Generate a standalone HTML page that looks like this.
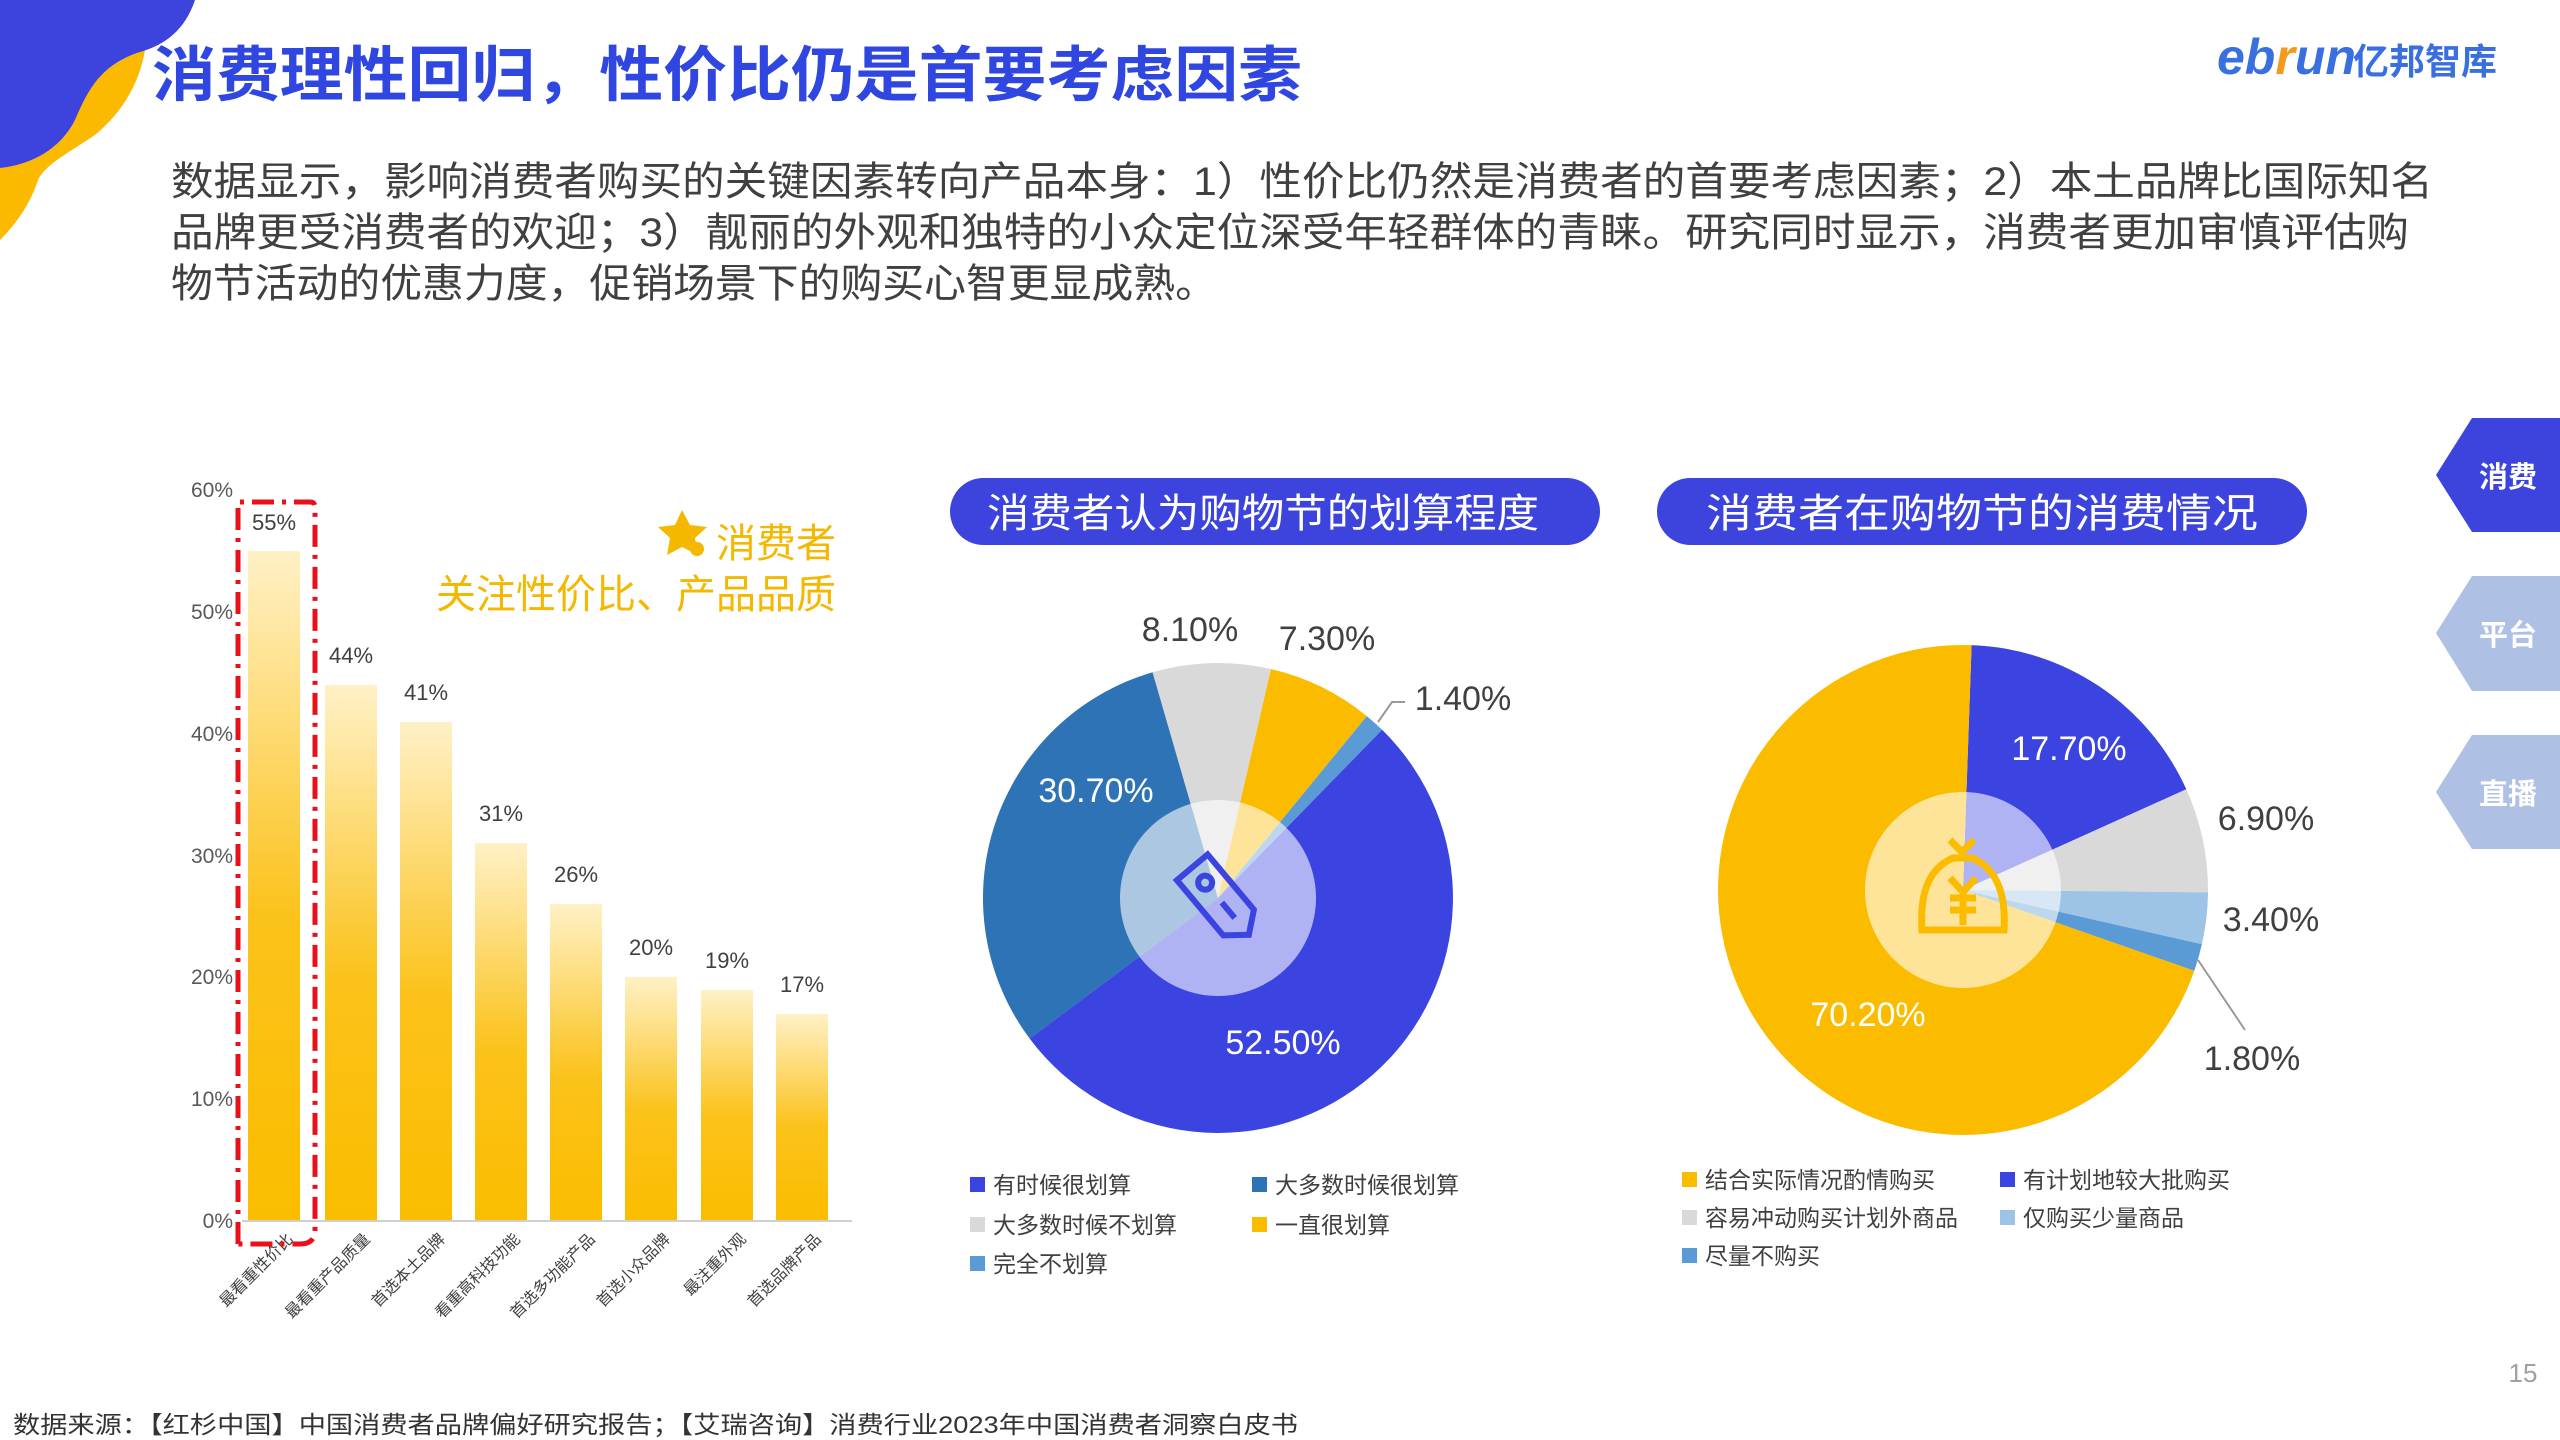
<!DOCTYPE html>
<html><head><meta charset="utf-8"><style>
html,body{margin:0;padding:0;background:#fff;}
svg{display:block;font-family:"Liberation Sans","Noto Sans CJK SC",sans-serif;}
</style></head><body>
<svg width="2560" height="1440" viewBox="0 0 2560 1440" xmlns="http://www.w3.org/2000/svg">
<defs>
<linearGradient id="bg" x1="0" y1="0" x2="0" y2="1">
<stop offset="0" stop-color="#fff1c6"/><stop offset="0.55" stop-color="#fbc21a"/><stop offset="1" stop-color="#fbbd00"/>
</linearGradient>
</defs>
<path d="M0,168 C30,165 60,150 75,120 C85,90 100,65 145,50 C140,80 125,110 95,135 C65,155 45,165 38,180 C30,205 15,225 0,240 Z" fill="#fbb900"/>
<path d="M0,0 H195 C185,30 165,45 140,52 C100,65 88,90 75,120 C60,150 30,165 0,168 Z" fill="#3d44de"/>
<text x="152" y="96" font-size="60" font-weight="bold" fill="#3046e0" textLength="1150" lengthAdjust="spacingAndGlyphs">消费理性回归，性价比仍是首要考虑因素</text>
<text x="2217" y="74" font-size="50" font-weight="bold" font-style="italic" fill="#3a6fe0">eb<tspan fill="#f39a1e">r</tspan>un</text>
<text x="2353" y="74" font-size="36" font-weight="bold" fill="#3a6fe0">亿邦智库</text>
<g font-size="40" fill="#404040">
<text x="171" y="195" textLength="2262" lengthAdjust="spacingAndGlyphs">数据显示，影响消费者购买的关键因素转向产品本身：1）性价比仍然是消费者的首要考虑因素；2）本土品牌比国际知名</text>
<text x="171" y="246" textLength="2238" lengthAdjust="spacingAndGlyphs">品牌更受消费者的欢迎；3）靓丽的外观和独特的小众定位深受年轻群体的青睐。研究同时显示，消费者更加审慎评估购</text>
<text x="171" y="297" textLength="1046" lengthAdjust="spacingAndGlyphs">物节活动的优惠力度，促销场景下的购买心智更显成熟。</text>
</g>
<path d="M2472,418 H2560 V532 H2472 L2436,475 Z" fill="#3d44de"/>
<path d="M2472,576 H2560 V691 H2472 L2436,633 Z" fill="#aec0e4"/>
<path d="M2472,735 H2560 V849 H2472 L2436,792 Z" fill="#aec0e4"/>
<g font-size="29" font-weight="bold" fill="#fff" text-anchor="middle">
<text x="2508" y="487">消费</text><text x="2508" y="645">平台</text><text x="2508" y="804">直播</text>
</g>
<g font-size="21" fill="#595959" text-anchor="end">
<text x="233" y="1228">0%</text><text x="233" y="1106">10%</text><text x="233" y="984">20%</text>
<text x="233" y="863">30%</text><text x="233" y="741">40%</text><text x="233" y="619">50%</text><text x="233" y="497">60%</text>
</g>
<g fill="url(#bg)">
<rect x="248" y="551" width="52" height="670"/>
<rect x="325" y="685" width="52" height="536"/>
<rect x="400" y="722" width="52" height="499"/>
<rect x="475" y="843" width="52" height="378"/>
<rect x="550" y="904" width="52" height="317"/>
<rect x="625" y="977" width="52" height="244"/>
<rect x="701" y="990" width="52" height="231"/>
<rect x="776" y="1014" width="52" height="207"/>
</g>
<line x1="242" y1="1221" x2="852" y2="1221" stroke="#d0d0d0" stroke-width="2"/>
<g font-size="22" fill="#404040" text-anchor="middle">
<text x="274" y="530">55%</text><text x="351" y="663">44%</text><text x="426" y="700">41%</text>
<text x="501" y="821">31%</text><text x="576" y="882">26%</text><text x="651" y="955">20%</text>
<text x="727" y="968">19%</text><text x="802" y="992">17%</text>
</g>
<g font-size="16" fill="#404040" text-anchor="end">
<text transform="translate(294,1240) rotate(-45)">最看重性价比</text>
<text transform="translate(371,1240) rotate(-45)">最看重产品质量</text>
<text transform="translate(446,1240) rotate(-45)">首选本土品牌</text>
<text transform="translate(521,1240) rotate(-45)">看重高科技功能</text>
<text transform="translate(596,1240) rotate(-45)">首选多功能产品</text>
<text transform="translate(671,1240) rotate(-45)">首选小众品牌</text>
<text transform="translate(747,1240) rotate(-45)">最注重外观</text>
<text transform="translate(822,1240) rotate(-45)">首选品牌产品</text>
</g>
<path d="M238,1244 V502 H310 Q315,502 315,507 V1230 Q315,1244 300,1244 Z" fill="none" stroke="#e8101a" stroke-width="5" stroke-dasharray="22,8,4,8"/>
<path d="M682,510 l8,15 17,2 -12,11 3,17 -16,-8 -15,8 3,-17 -12,-11 17,-2z" fill="#f5b800"/>
<circle cx="697" cy="549" r="7" fill="#f5b800"/>
<g font-size="40" fill="#f5b800" text-anchor="end">
<text x="836" y="557">消费者</text>
<text x="836" y="608">关注性价比、产品品质</text>
</g>
<rect x="950" y="478" width="650" height="67" rx="33.5" fill="#3d44de"/>
<text x="1263" y="527" font-size="40" fill="#fff" text-anchor="middle" textLength="552" lengthAdjust="spacingAndGlyphs">消费者认为购物节的划算程度</text>
<g>
<path d="M1218,898 L1270.9,669 A235,235 0 0 1 1366.8,716.1 Z" fill="#fbbc00"/>
<path d="M1218,898 L1366.8,716.1 A235,235 0 0 1 1382.1,729.8 Z" fill="#5b9bd5"/>
<path d="M1218,898 L1382.1,729.8 A235,235 0 1 1 1029.6,1038.5 Z" fill="#3b43e0"/>
<path d="M1218,898 L1029.6,1038.5 A235,235 0 0 1 1152.6,672.3 Z" fill="#2e73b5"/>
<path d="M1218,898 L1152.6,672.3 A235,235 0 0 1 1270.9,669 Z" fill="#d9d9d9"/>
<circle cx="1218" cy="898" r="98" fill="#fff" fill-opacity="0.6"/>
<g transform="translate(1218,898) rotate(-40)" fill="none" stroke="#3b43e0" stroke-width="6">
<path d="M-20,-40 H20 V32 L0,48 L-20,32 Z"/><circle cx="0" cy="-20" r="7"/><line x1="0" y1="6" x2="0" y2="26"/>
</g>
</g>
<polyline points="1378,722 1392,702 1405,702" fill="none" stroke="#999" stroke-width="2"/>
<g font-size="34" text-anchor="middle">
<text x="1190" y="641" fill="#404040">8.10%</text>
<text x="1327" y="650" fill="#404040">7.30%</text>
<text x="1463" y="710" fill="#404040">1.40%</text>
<text x="1096" y="802" fill="#fff">30.70%</text>
<text x="1283" y="1054" fill="#fff">52.50%</text>
</g>
<g font-size="23" fill="#404040">
<rect x="970" y="1177" width="15" height="15" fill="#3b43e0"/><text x="993" y="1193">有时候很划算</text>
<rect x="1252" y="1177" width="15" height="15" fill="#2e73b5"/><text x="1275" y="1193">大多数时候很划算</text>
<rect x="970" y="1217" width="15" height="15" fill="#d9d9d9"/><text x="993" y="1233">大多数时候不划算</text>
<rect x="1252" y="1217" width="15" height="15" fill="#fbbc00"/><text x="1275" y="1233">一直很划算</text>
<rect x="970" y="1256" width="15" height="15" fill="#5b9bd5"/><text x="993" y="1272">完全不划算</text>
</g>
<rect x="1657" y="478" width="650" height="67" rx="33.5" fill="#3d44de"/>
<text x="1982" y="527" font-size="40" fill="#fff" text-anchor="middle" textLength="552" lengthAdjust="spacingAndGlyphs">消费者在购物节的消费情况</text>
<path d="M1963,890 L1971.6,645.1 A245,245 0 0 1 2186.3,789.3 Z" fill="#3b43e0"/>
<path d="M1963,890 L2186.3,789.3 A245,245 0 0 1 2208,892.4 Z" fill="#d9d9d9"/>
<path d="M1963,890 L2208,892.4 A245,245 0 0 1 2201.9,944.3 Z" fill="#9dc3e6"/>
<path d="M1963,890 L2201.9,944.3 A245,245 0 0 1 2194.3,970.9 Z" fill="#5b9bd5"/>
<path d="M1963,890 L2194.3,970.9 A245,245 0 1 1 1971.6,645.1 Z" fill="#fbbc00"/>
<circle cx="1963" cy="890" r="98" fill="#fff" fill-opacity="0.6"/>
<g fill="none" stroke="#fbbc00" stroke-width="7">
<path d="M1950,840 L1962,852 L1974,840 M1953,858 C1925,870 1920,900 1922,930 H2004 C2006,900 2000,870 1972,858 Z"/>
<path d="M1950,878 L1963,892 L1976,878 M1950,898 H1976 M1950,910 H1976 M1963,892 V925"/>
</g>
<line x1="2198" y1="960" x2="2245" y2="1030" stroke="#999" stroke-width="2"/>
<g font-size="34" text-anchor="middle">
<text x="2069" y="760" fill="#fff">17.70%</text>
<text x="2266" y="830" fill="#404040">6.90%</text>
<text x="2271" y="931" fill="#404040">3.40%</text>
<text x="2252" y="1070" fill="#404040">1.80%</text>
<text x="1868" y="1026" fill="#fff">70.20%</text>
</g>
<g font-size="23" fill="#404040">
<rect x="1682" y="1172" width="15" height="15" fill="#fbbc00"/><text x="1705" y="1188">结合实际情况酌情购买</text>
<rect x="2000" y="1172" width="15" height="15" fill="#3b43e0"/><text x="2023" y="1188">有计划地较大批购买</text>
<rect x="1682" y="1210" width="15" height="15" fill="#d9d9d9"/><text x="1705" y="1226">容易冲动购买计划外商品</text>
<rect x="2000" y="1210" width="15" height="15" fill="#9dc3e6"/><text x="2023" y="1226">仅购买少量商品</text>
<rect x="1682" y="1248" width="15" height="15" fill="#5b9bd5"/><text x="1705" y="1264">尽量不购买</text>
</g>
<text x="13" y="1433" font-size="24" fill="#333" textLength="1285" lengthAdjust="spacingAndGlyphs">数据来源：【红杉中国】中国消费者品牌偏好研究报告；【艾瑞咨询】消费行业2023年中国消费者洞察白皮书</text>
<text x="2523" y="1382" font-size="26" fill="#a0a0a0" text-anchor="middle">15</text>
</svg>
</body></html>
